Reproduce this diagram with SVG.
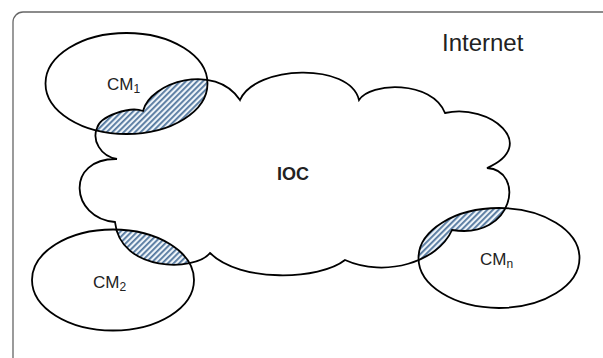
<svg xmlns="http://www.w3.org/2000/svg" width="603" height="358" viewBox="0 0 603 358">
  <style>
    .outline { fill: none; stroke: #000; stroke-width: 1.8; }
    .lbl { font-family: "Liberation Sans", Arial, sans-serif; fill: #222; }
    .cm { font-size: 17px; }
    .sub { font-size: 12px; }
  </style>
  <defs>
    <pattern id="hatch" patternUnits="userSpaceOnUse" width="4" height="4" patternTransform="rotate(45)">
      <rect width="4" height="4" fill="#eef4f9"/>
      <rect width="1.8" height="4" fill="#52779e"/>
    </pattern>
    <clipPath id="ells">
      <ellipse cx="126.5" cy="83.5" rx="81" ry="50.5"/>
      <ellipse cx="113" cy="280" rx="81" ry="50.5"/>
      <ellipse cx="499" cy="258" rx="80.5" ry="50"/>
    </clipPath>
    <path id="cloudPath" d="M97,128 C100,116 130,106 143,111 C150,82 215,62 240,100 C255,65 350,62 359,100 C370,82 432,80 445,113 C490,103 540,145 487,168 C525,170 515,240 452,230 C438,262 385,278 345,260 C320,280 240,283 210,253 C195,272 120,272 115,222 C70,218 65,158 117,159 C100,156 92,140 97,128 Z"/>
  </defs>
  <rect width="603" height="358" fill="#fff"/>
  <rect id="frame" x="13" y="12" width="620" height="370" rx="10" ry="10" fill="none" stroke="#666" stroke-width="1.3"/>

  <g id="ioc">
    <use href="#cloudPath" fill="#fff"/>
    <use href="#cloudPath" fill="url(#hatch)" clip-path="url(#ells)"/>
    <use href="#cloudPath" class="outline"/>
    <text class="lbl" x="277" y="180" font-size="18" font-weight="bold">IOC</text>
  </g>

  <g id="cm1">
    <ellipse class="outline" cx="126.5" cy="83.5" rx="81" ry="50.5"/>
    <text class="lbl cm" x="107" y="90">CM<tspan class="sub" dy="3">1</tspan></text>
  </g>

  <g id="cm2">
    <ellipse class="outline" cx="113" cy="280" rx="81" ry="50.5"/>
    <text class="lbl cm" x="93" y="288">CM<tspan class="sub" dy="3">2</tspan></text>
  </g>

  <g id="cmn">
    <ellipse class="outline" cx="499" cy="258" rx="80.5" ry="50"/>
    <text class="lbl cm" x="480" y="265">CM<tspan class="sub" dy="3">n</tspan></text>
  </g>

  <g id="internet">
    <text class="lbl" x="442" y="51" font-size="24">Internet</text>
  </g>

  <g id="connectors"/>
</svg>
